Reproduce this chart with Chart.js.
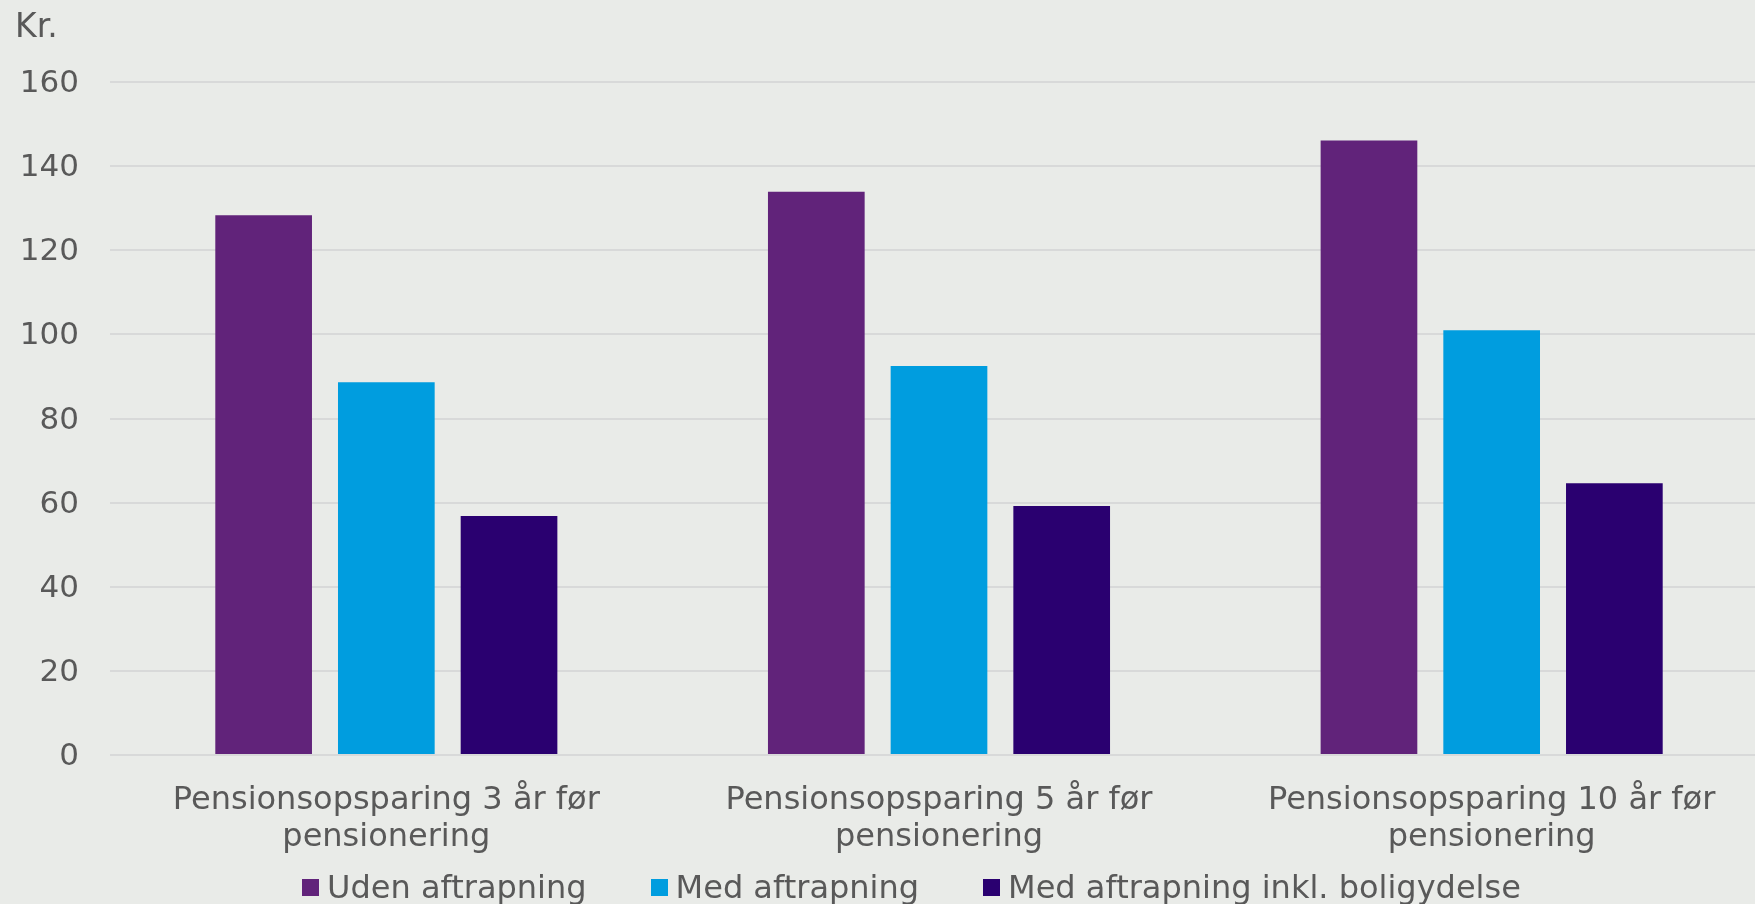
<!DOCTYPE html>
<html lang="da">
<head>
<meta charset="utf-8">
<title>Pensionsopsparing</title>
<script src="https://cdn.jsdelivr.net/npm/chart.js@4/dist/chart.umd.min.js"></script>
<style>
  html, body { margin: 0; padding: 0; background: #e9ebe8; overflow: hidden; }
  #wrap { position: relative; width: 1755px; height: 904px; overflow: hidden; }
  #chart { position: absolute; left: 0; top: 0; }
  #legend {
    position: absolute; left: 302px; top: 868px; height: 38px;
    display: flex; align-items: center; gap: 64px;
    font-family: "DejaVu Sans", Verdana, sans-serif; font-size: 32px; color: #595959;
  }
  #legend .item { display: flex; align-items: center; gap: 8px; white-space: nowrap; }
  #legend .box { width: 17px; height: 17px; }
</style>
</head>
<body>
<div id="wrap">
  <canvas id="chart" width="1768" height="904"></canvas>
  <div id="legend"></div>
</div>
<script>
const categories = [
  ['Pensionsopsparing 3 år før', 'pensionering'],
  ['Pensionsopsparing 5 år før', 'pensionering'],
  ['Pensionsopsparing 10 år før', 'pensionering']
];
const seriesNames = ['Uden aftrapning', 'Med aftrapning', 'Med aftrapning inkl. boligydelse'];
const udenAftrapning = [128.3, 133.9, 146.1];
const medAftrapning = [88.6, 92.5, 101.0];
const medBoligydelse = [56.8, 59.2, 64.6];
const seriesColors = ['#61237a', '#009ddf', '#2a0070'];
const yTicks = [0, 20, 40, 60, 80, 100, 120, 140, 160];

const FONT = '"DejaVu Sans", Verdana, sans-serif';
const TEXT = '#595959';

// "Kr." unit label in the top-left corner
const unitLabel = {
  id: 'unitLabel',
  afterDraw(chart) {
    const ctx = chart.ctx;
    ctx.save();
    ctx.font = '33px ' + FONT;
    ctx.fillStyle = TEXT;
    ctx.textBaseline = 'alphabetic';
    ctx.textAlign = 'left';
    ctx.fillText('Kr.', 15, 37);
    ctx.restore();
  }
};

const chart = new Chart(document.getElementById('chart'), {
  type: 'bar',
  data: {
    labels: categories,
    datasets: [
      { label: seriesNames[0], data: udenAftrapning, backgroundColor: seriesColors[0] },
      { label: seriesNames[1], data: medAftrapning, backgroundColor: seriesColors[1] },
      { label: seriesNames[2], data: medBoligydelse, backgroundColor: seriesColors[2] }
    ]
  },
  options: {
    responsive: false,
    animation: false,
    devicePixelRatio: 1,
    datasets: { bar: { categoryPercentage: 0.666, barPercentage: 0.788 } },
    layout: { padding: { top: 82, right: 0, bottom: 0, left: 0 } },
    scales: {
      x: {
        grid: { display: false, drawTicks: false },
        border: { display: false },
        ticks: {
          color: TEXT, padding: 27, maxRotation: 0, autoSkip: false,
          font: { family: FONT, size: 32, lineHeight: 1.16 }
        },
        afterFit(scale) { scale.height = 149; }
      },
      y: {
        min: 0, max: 160,
        afterBuildTicks(scale) { scale.ticks = yTicks.map(v => ({ value: v })); },
        grid: { color: '#d8d9d9', lineWidth: 2, drawTicks: false },
        border: { display: false },
        ticks: { color: TEXT, padding: 31, labelOffset: 2, font: { family: FONT, size: 31 } },
        afterFit(scale) { scale.width = 110; }
      }
    },
    plugins: {
      legend: { display: false },
      tooltip: { enabled: false }
    }
  },
  plugins: [unitLabel]
});

// legend row under the axis labels
const legendEl = document.getElementById('legend');
chart.data.datasets.forEach(ds => {
  const item = document.createElement('div');
  item.className = 'item';
  const box = document.createElement('span');
  box.className = 'box';
  box.style.background = ds.backgroundColor;
  const txt = document.createElement('span');
  txt.textContent = ds.label;
  item.appendChild(box);
  item.appendChild(txt);
  legendEl.appendChild(item);
});
</script>
</body>
</html>
